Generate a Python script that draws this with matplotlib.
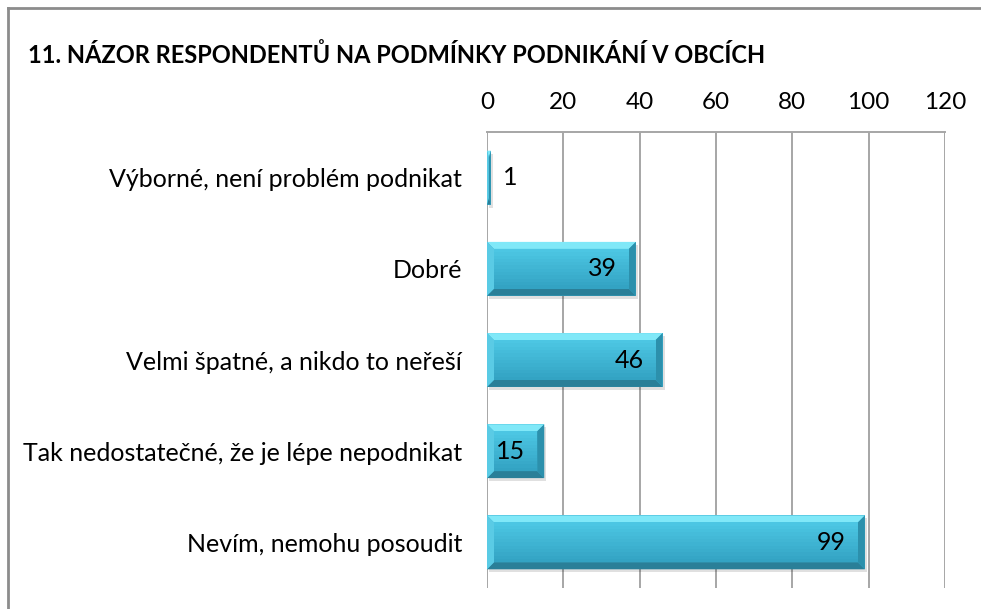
import matplotlib
matplotlib.use("Agg")
import matplotlib.pyplot as plt
from matplotlib.patches import Polygon, Rectangle
from matplotlib.lines import Line2D
from matplotlib.colors import to_rgb
import numpy as np

categories = [
    "Výborné, není problém podnikat",
    "Dobré",
    "Velmi špatné, a nikdo to neřeší",
    "Tak nedostatečné, že je lépe nepodnikat",
    "Nevím, nemohu posoudit",
]
values = [1, 39, 46, 15, 99]
xticks = [0, 20, 40, 60, 80, 100, 120]
title = "11. NÁZOR RESPONDENTŮ NA PODMÍNKY PODNIKÁNÍ V OBCÍCH"

FONT = ["Lato", "DejaVu Sans"]
W, H = 981, 609
fig = plt.figure(figsize=(W / 100, H / 100), dpi=100)
fig.patch.set_facecolor("white")

ax = fig.add_axes([487 / W, 1 - 588 / H, (945 - 487) / W, (588 - 132) / H])
ax.set_xlim(0, 120)
ax.set_ylim(len(categories) - 0.5, -0.5)

y = np.arange(len(categories))
bh = 0.59
bars = ax.barh(y, values, height=bh, color="#3CB2D2", edgecolor="none", zorder=3)

px_x = 120 / (945 - 487)
px_y = 5 / (588 - 132)
bev = 7
c_top = np.array(to_rgb("#4CC6E3"))
c_bot = np.array(to_rgb("#33A3C3"))
for b in bars:
    x0, y0 = b.get_x(), b.get_y()
    w, h = b.get_width(), b.get_height()
    x1, y1 = x0 + w, y0 + h
    bx = min(bev * px_x, w / 2)
    by = bev * px_y
    ax.add_patch(Rectangle((x0 + 2 * px_x, y0 + 3 * px_y), w, h, facecolor="#000000",
                           alpha=0.12, edgecolor="none", zorder=2))
    ax.add_patch(Polygon([(x0, y0), (x1, y0), (x1 - bx, y0 + by), (x0 + bx, y0 + by)],
                         closed=True, facecolor="#80E8F8", edgecolor="none", zorder=4))
    ax.add_patch(Polygon([(x0, y1), (x1, y1), (x1 - bx, y1 - by), (x0 + bx, y1 - by)],
                         closed=True, facecolor="#2A7F98", edgecolor="none", zorder=4))
    ax.add_patch(Polygon([(x0, y0), (x0 + bx, y0 + by), (x0 + bx, y1 - by), (x0, y1)],
                         closed=True, facecolor="#5ACBE5", edgecolor="none", zorder=4))
    ax.add_patch(Polygon([(x1, y0), (x1 - bx, y0 + by), (x1 - bx, y1 - by), (x1, y1)],
                         closed=True, facecolor="#2C90AC", edgecolor="none", zorder=4))
    n = 12
    fh = (h - 2 * by) / n
    for i in range(n):
        t = i / (n - 1)
        col = c_top * (1 - t) + c_bot * t
        ax.add_patch(Rectangle((x0 + bx, y0 + by + i * fh), max(w - 2 * bx, 0), fh * 1.05,
                               facecolor=col, edgecolor="none", zorder=4))

for yi, v in zip(y, values):
    if v < 10:
        ax.text(v + 12 * px_x, yi, str(v), ha="left", va="center", fontsize=18,
                family=FONT, color="#000000", zorder=6)
    else:
        ax.text(v - 19 * px_x, yi, str(v), ha="right", va="center", fontsize=18,
                family=FONT, color="#000000", zorder=6)

ax.xaxis.tick_top()
ax.set_xticks(xticks)
ax.set_xticklabels([str(t) for t in xticks], fontsize=17.5, family=FONT)
ax.tick_params(axis="x", length=0, pad=14)
ax.set_yticks(y)
ax.set_yticklabels(categories, fontsize=18, family=FONT)
ax.tick_params(axis="y", length=0, pad=18)
ax.grid(axis="x", color="#A6A6A6", linewidth=1.4, zorder=0)
ax.set_axisbelow(True)
for s in ["left", "right", "bottom"]:
    ax.spines[s].set_visible(False)
ax.spines["top"].set_color("#A6A6A6")
ax.spines["top"].set_linewidth(1.4)

fig.text(28 / W, 1 - 55 / H, title, ha="left", va="center", fontsize=17,
         fontweight="bold", family=FONT)

fig.add_artist(Line2D([8 / W, 8 / W], [0, 1 - 8 / H], color="#8C8C8C", linewidth=2,
                      transform=fig.transFigure))
fig.add_artist(Line2D([8 / W, 1], [1 - 8 / H, 1 - 8 / H], color="#8C8C8C", linewidth=2,
                      transform=fig.transFigure))

fig.savefig("out.png", dpi=100)
